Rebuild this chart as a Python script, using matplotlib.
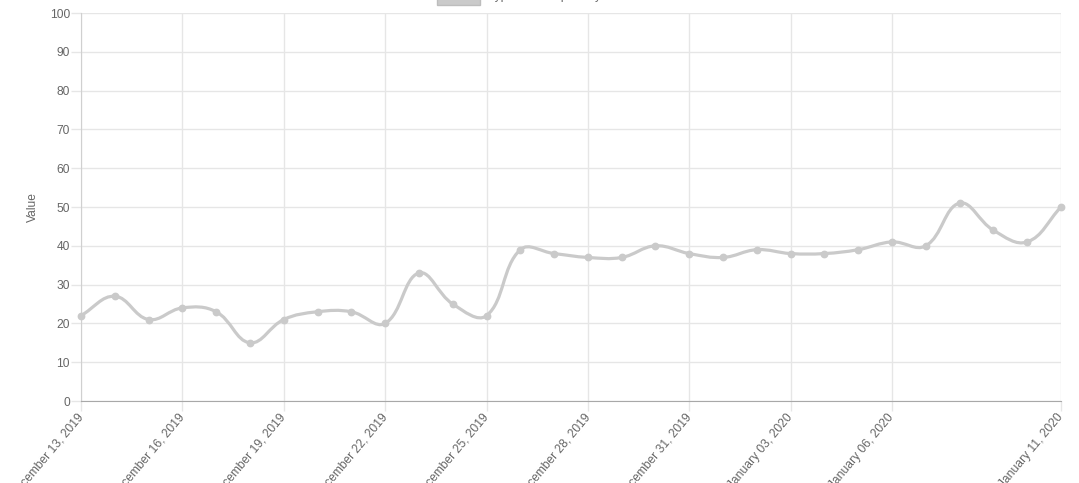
import numpy as np
import pandas as pd
import matplotlib
matplotlib.use('Agg')
import matplotlib.pyplot as plt
import matplotlib.dates as mdates
import matplotlib.transforms as mtransforms
from matplotlib.path import Path
from matplotlib.patches import PathPatch, Rectangle

# data (one point per day)
dates = pd.date_range('2019-12-13', '2020-01-11', freq='D')
values = [22, 27, 21, 24, 23, 15, 21, 23, 23, 20,
          33, 25, 22, 39, 38, 37, 37, 40, 38, 37,
          39, 38, 38, 39, 41, 40, 51, 44, 41, 50]
tick_dates = ['2019-12-13', '2019-12-16', '2019-12-19', '2019-12-22', '2019-12-25',
              '2019-12-28', '2019-12-31', '2020-01-03', '2020-01-06', '2020-01-11']
y_ticks = list(range(0, 101, 10))
series_label = 'Typical value per day'

line_color = '#cacaca'
grid_color = '#e6e6e6'
text_color = '#666666'

plt.rcParams['font.family'] = ['Liberation Sans', 'DejaVu Sans']

W, H = 1079, 483
fig = plt.figure(figsize=(W / 100, H / 100), dpi=100)
ax = fig.add_axes([81 / W, (H - 401) / H, (1061 - 81) / W, (401 - 13) / H])

x = mdates.date2num(dates)
tx = mdates.date2num(pd.to_datetime(tick_dates))
ax.set_xlim(x[0], x[-1])
ax.set_ylim(0, 100)


def spline_path(xs, ys, tension=0.4):
    # chart.js style bezier spline, computed in pixel space
    pts = ax.transData.transform(np.column_stack([xs, ys]))
    n = len(pts)
    cp1 = np.zeros_like(pts)
    cp2 = np.zeros_like(pts)
    for i in range(n):
        prev = pts[max(i - 1, 0)]
        cur = pts[i]
        nxt = pts[min(i + 1, n - 1)]
        d01 = np.hypot(*(cur - prev))
        d12 = np.hypot(*(nxt - cur))
        tot = d01 + d12
        s01 = d01 / tot if tot else 0
        s12 = d12 / tot if tot else 0
        cp1[i] = cur - tension * s01 * (nxt - prev)
        cp2[i] = cur + tension * s12 * (nxt - prev)
    verts = [pts[0]]
    codes = [Path.MOVETO]
    for i in range(n - 1):
        verts += [cp2[i], cp1[i + 1], pts[i + 1]]
        codes += [Path.CURVE4] * 3
    verts = ax.transData.inverted().transform(np.array(verts))
    return Path(verts, codes)


ax.add_patch(PathPatch(spline_path(x, values), fill=False, edgecolor=line_color,
                       lw=2.3, capstyle='round', joinstyle='round', zorder=3))
ax.plot(x, values, 'o', color=line_color, markersize=4.6, zorder=4, clip_on=False)

ax.set_xticks(tx)
ax.set_xticklabels([pd.Timestamp(d).strftime('%B %d, %Y') for d in tick_dates],
                   rotation=50, ha='right', va='center', rotation_mode='anchor')
shift = mtransforms.ScaledTranslation(2 / 100, 0, fig.dpi_scale_trans)
for lbl in ax.get_xticklabels():
    lbl.set_transform(lbl.get_transform() + shift)
ax.set_yticks(y_ticks)
ax.grid(True, color=grid_color, lw=1)
ax.set_axisbelow(True)
ax.tick_params(axis='both', colors=grid_color, labelcolor=text_color, labelsize=8.64,
               length=7, width=1)
ax.tick_params(axis='x', pad=3.5)
ax.tick_params(axis='y', pad=1)
for side in ['top', 'right']:
    ax.spines[side].set_visible(False)
ax.spines['left'].set_color('#d0d0d0')
ax.spines['bottom'].set_color('#a8a8a8')
ax.set_ylabel('Value', color=text_color, fontsize=8.64, labelpad=8)

# legend at the top, partly cut off like in the reference
fig.patches.append(Rectangle((437 / W, 1 - 5 / H), 43 / W, 12 / H, transform=fig.transFigure,
                             facecolor=line_color, edgecolor='#bdbdbd', lw=1))
fig.text(488 / W, 1 - 2 / H, series_label, color=text_color, fontsize=8.64,
         ha='left', va='bottom')

fig.savefig('out.png', dpi=100)
